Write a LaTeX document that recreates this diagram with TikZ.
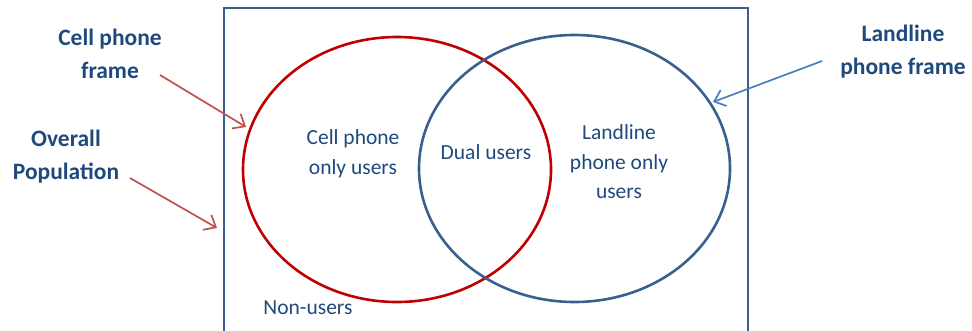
\documentclass[tikz,border=0pt]{standalone}
\usepackage{fontspec}
\setmainfont{Carlito}
\usetikzlibrary{arrows.meta}
\definecolor{textblue}{HTML}{1F497D}
\definecolor{framblue}{HTML}{3A5F8E}
\definecolor{cellred}{HTML}{C00000}
\definecolor{arrred}{HTML}{C0504D}
\definecolor{arrblue}{HTML}{4A7EBB}
\begin{document}
\begin{tikzpicture}[x=1pt, y=-1pt,
        label/.style={align=center, text=textblue, font=\fontsize{23.5}{33}\selectfont\bfseries},
        inner/.style={align=center, text=textblue, font=\fontsize{21.5}{29.5}\selectfont},
        arrow/.style={-{Straight Barb[length=10pt,width=17pt]}, line width=1.7pt}
    ]
        \useasboundingbox (0,0) rectangle (972,330);

        % Frame and circles
        \draw[framblue, line width=2.4pt] (224,331) -- (224,8) -- (748,8) -- (748,331);
        \draw[cellred, line width=2.6pt] (397,169.5) ellipse [x radius=154, y radius=132.5];
        \draw[framblue, line width=2.6pt] (574.5,168.5) ellipse [x radius=155.5, y radius=133.5];

        % Outside labels
        \node[label] (cell) at (110,54) {Cell phone\\frame};
        \node[label] (pop) at (66,157) {Overall\\Population};
        \node[label] (land) at (903,52) {Landline\\phone frame};

        % Inside labels
        \node[inner] (cellonly) at (353,154) {Cell phone\\only users};
        \node[inner] (dual) at (486,152) {Dual users};
        \node[inner] (landonly) at (619,162) {Landline\\phone only\\users};
        \node[inner] (non) at (308,308) {Non-users};

        % Arrows
        \coordinate (cellstart) at (160,75);
        \coordinate (cellend) at (246,127);
        \coordinate (popstart) at (130,178);
        \coordinate (popend) at (217,228);
        \coordinate (landstart) at (822,61);
        \coordinate (landend) at (713,102);
        \draw[arrow, arrred] (cellstart) -- (cellend);
        \draw[arrow, arrred] (popstart) -- (popend);
        \draw[arrow, arrblue] (landstart) -- (landend);
    \end{tikzpicture}
\end{document}
